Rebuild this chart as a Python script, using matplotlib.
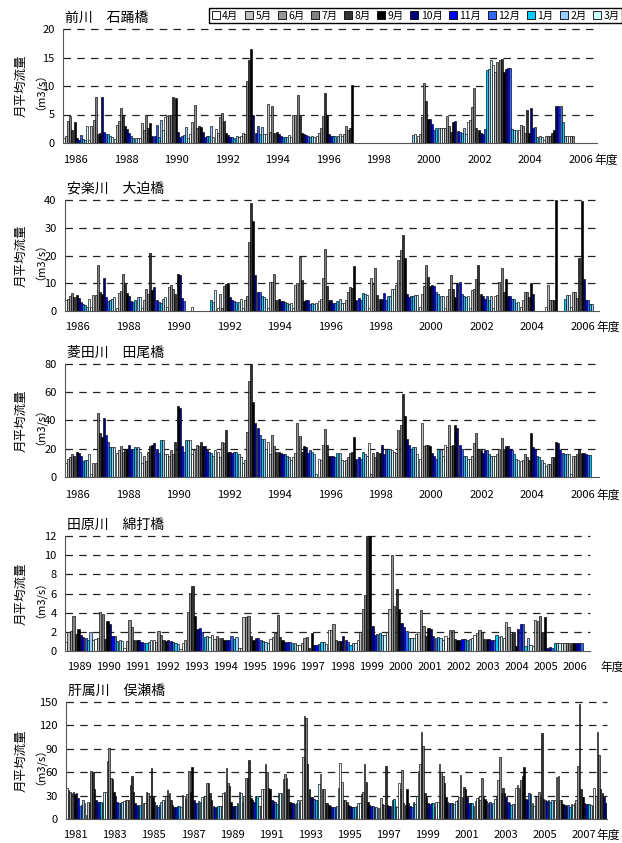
import numpy as np
import matplotlib.pyplot as plt
from matplotlib.patches import Patch
from matplotlib import transforms

plt.rcParams['font.family'] = ['Noto Sans CJK JP', 'DejaVu Sans']

_ = None

months = ['4月', '5月', '6月', '7月', '8月', '9月', '10月', '11月', '12月', '1月', '2月', '3月']
colors = ['#FFFFFF', '#C0C0C0', '#969696', '#808080', '#333333', '#000000',
          '#000080', '#0000FF', '#3366FF', '#00CCFF', '#99CCFF', '#CCFFFF']

# 前川 石踊橋  (rows = fiscal year, Apr..Mar)
maekawa_years = list(range(1986, 2007))
maekawa = [
    [0.8, 1.2, 3.9, 4.7, 2.2, 3.7, 0.8, 0.5, 1.4, 0.7, 0.6, 3.0],
    [0.6, 3.0, 4.0, 8.1, 1.5, 1.7, 8.1, 2.0, 1.6, 1.5, 1.3, 1.0],
    [0.7, 3.1, 3.8, 6.2, 5.0, 3.0, 2.4, 1.7, 1.2, 0.8, 0.8, 0.8],
    [0.8, 3.5, 2.2, 5.0, 2.6, 3.5, 1.2, 1.3, 3.1, 1.1, 4.1, 2.3],
    [4.5, 4.7, 4.9, 5.0, 8.0, 7.9, 2.0, 1.0, 1.3, 1.4, 2.8, 0.8],
    [1.5, 3.6, 6.6, 2.6, 2.9, 2.8, 1.9, 1.1, 1.2, 1.2, 3.0, 1.0],
    [2.4, 1.8, 4.6, 5.2, 3.8, 1.8, 1.4, 1.0, 1.1, 0.9, 1.3, 1.0],
    [1.2, 1.8, 1.5, 10.8, 14.5, 16.5, 5.0, 1.8, 3.0, 1.6, 2.8, 1.5],
    [1.5, 6.8, 2.0, 6.5, 1.8, 2.0, 1.5, 1.3, 1.1, 1.0, 1.0, 1.4],
    [1.0, 5.0, 5.0, 8.5, 4.8, 1.8, 1.5, 1.4, 1.2, 1.1, 1.3, 1.0],
    [1.2, 1.8, 2.6, 4.8, 8.8, 5.0, 1.5, 1.2, 1.2, 1.2, 1.3, 1.5],
    [1.3, 1.6, 3.0, 2.3, 2.6, 10.2, _, _, _, _, _, _],
    [_, _, _, _, _, _, _, _, _, _, _, _],
    [_, _, _, _, _, _, _, _, _, _, 1.4, 1.5],
    [1.2, 1.6, 4.6, 10.6, 7.3, 4.2, 4.2, 3.3, 2.2, 2.7, 2.7, 2.6],
    [2.7, 2.6, 4.7, 2.9, 1.9, 3.6, 3.8, 2.1, 2.0, 1.8, 2.6, 1.5],
    [3.7, 4.1, 6.3, 9.6, 2.6, 2.2, 1.8, 1.6, 2.4, 12.8, 12.9, 14.5],
    [13.6, 12.4, 14.2, 14.5, 14.8, 12.5, 13.0, 13.2, 13.2, 2.4, 2.3, 2.2],
    [2.2, 3.2, 2.9, 1.8, 5.8, 1.7, 6.2, 2.7, 2.8, 1.1, 1.2, 1.0],
    [0.5, 1.2, 1.2, 1.2, 1.8, 2.2, 6.5, 6.5, 6.5, 3.7, 1.2, 1.2],
    [1.2, 1.2, 1.2, _, _, _, _, _, _, _, _, _],
]

# 安楽川 大迫橋
anraku_years = list(range(1986, 2007))
anraku = [
    [4.0, 4.5, 5.5, 6.5, 5.0, 5.8, 4.8, 3.3, 2.7, 2.0, 1.5, 4.3],
    [1.5, 5.6, 5.6, 16.5, 7.0, 6.2, 12.0, 5.0, 3.5, 3.8, 4.5, 5.0],
    [1.0, 6.5, 7.3, 13.3, 9.8, 6.5, 5.5, 3.5, 3.2, 3.8, 5.0, 5.0],
    [1.0, 4.0, 8.0, 6.2, 21.0, 7.5, 8.5, 4.0, 3.2, 2.8, 4.5, 5.2],
    [1.5, 8.5, 9.5, 8.0, 6.0, 13.3, 12.8, 4.8, 3.5, _, _, _],
    [1.3, _, _, _, _, _, _, _, _, 3.8, 3.2, 7.5],
    [1.0, 6.2, 1.2, 9.0, 9.8, 10.0, 5.0, 4.0, 3.5, 3.3, 3.2, 4.2],
    [1.0, 4.0, 5.5, 25.0, 39.0, 32.3, 12.8, 7.0, 6.8, 5.5, 5.0, 4.3],
    [1.0, 10.5, 10.5, 13.3, 3.8, 4.3, 3.5, 3.5, 3.3, 3.0, 2.5, 2.8],
    [1.0, 9.5, 10.0, 19.3, 11.0, 3.5, 4.0, 4.0, 2.5, 3.0, 2.5, 3.0],
    [3.5, 4.5, 12.0, 22.5, 9.0, 4.0, 3.8, 2.8, 2.8, 3.5, 4.3, 3.0],
    [3.0, 4.0, 7.0, 8.8, 8.3, 16.2, 4.0, 4.7, 4.0, 6.5, 6.0, 5.8],
    [1.0, 11.8, 9.8, 15.5, 5.7, 4.2, 4.2, 6.5, 4.0, 5.5, 5.5, 8.0],
    [8.0, 9.2, 18.2, 22.0, 27.3, 19.0, 6.2, 5.0, 5.3, 5.5, 5.8, 5.8],
    [1.3, 6.0, 9.0, 16.5, 12.3, 9.0, 9.5, 9.0, 7.0, 6.0, 5.5, 5.3],
    [1.2, 5.3, 8.0, 12.8, 8.0, 5.2, 10.0, 10.3, 6.0, 5.3, 5.0, 5.5],
    [1.2, 7.5, 8.0, 11.5, 16.5, 6.0, 5.5, 4.5, 5.3, 3.8, 5.3, 1.2],
    [5.5, 5.8, 10.5, 15.5, 7.0, 11.7, 5.5, 5.5, 4.5, 4.3, 2.8, 3.3],
    [1.3, 4.0, 7.0, 7.0, 5.0, 10.2, 6.0, _, _, _, _, _],
    [1.5, 9.3, 4.0, 3.8, 4.0, 40.0, _, _, _, 4.5, 5.8, 5.8],
    [1.5, 7.0, 7.0, 4.8, 19.0, 39.8, 11.5, 4.0, 4.0, 2.5, 2.5, _],
]

# 菱田川 田尾橋
hishida_years = list(range(1986, 2007))
hishida = [
    [10, 13, 14.5, 16, 15, 18, 17, 15, 11, 12, 12, 16],
    [2, 10, 10, 45, 31, 28, 42, 29.5, 25, 21, 21, 21],
    [17, 19, 22, 18, 20, 20, 23, 20, 20, 21, 21, 18],
    [10, 15, 11, 18, 22, 23, 24, 20, 17, 26, 26.5, 16],
    [16, 15, 19, 16, 25, 50, 48.5, 22, 18, 26, 26, 26],
    [16, 19, 23, 22, 25, 22, 22, 19, 18, 17, 15, 19],
    [18, 14, 25, 24, 33, 18, 18, 17, 18, 18, 16, 14],
    [10, 12, 32, 68, 80, 53, 38, 35, 30, 27, 27, 20],
    [25, 16, 29.5, 22, 18, 18, 17, 16, 16, 15, 14, 12],
    [14, 17, 38, 29, 18, 22, 21, 17, 19, 18, 16, 2],
    [13, 12, 23, 34, 23, 15, 15, 15, 14, 17, 17, 12],
    [11, 12, 14, 17, 18, 28, 13, 14, 13, 18, 16, 15],
    [24, 2, 17, 14, 18, 17, 23, 16, 19, 20, 20, 19],
    [18, 17, 33, 37, 59, 43, 27, 23, 20, 21, 21, 16],
    [13, 38, 22, 23, 23, 22, 17, 15, 13, 20, 19, 15],
    [23, 21, 36.5, 22, 23, 37, 35, 23, 20, 15, 15, 13],
    [13, 15, 24, 31, 20, 19, 17, 19, 19, 16, 15, 15],
    [15, 16, 20, 27.5, 20, 22, 22, 19.5, 19, 16, 13, 12],
    [11, 12, 16, 14, 12, 31, 21, 20, 15, 14, 12, 10],
    [8, 9, 9, 14, 14, 25, 24, 19, 17, 16, 16, 16],
    [2, 15, 15, 16, 19.5, 17, 17, 16, 15.5, 15.5, _, _],
]

# 田原川 綿打橋
tahara_years = list(range(1989, 2007))
tahara = [
    [0.9, 2.0, 2.1, 3.7, 1.8, 2.3, 1.7, 1.5, 1.4, 1.2, 2.0, 1.2],
    [1.3, 1.4, 4.1, 3.9, 1.3, 3.1, 2.8, 1.6, 1.6, 1.0, 1.2, 1.0],
    [0.3, 1.0, 3.2, 2.5, 1.2, 1.2, 1.2, 0.9, 0.8, 0.8, 0.9, 1.2],
    [1.2, 0.9, 2.1, 1.7, 1.2, 1.0, 1.1, 1.0, 0.9, 0.8, 0.7, 0.2],
    [0.8, 1.1, 4.1, 6.1, 6.8, 3.7, 2.3, 2.4, 2.0, 1.5, 1.6, 1.5],
    [1.7, 1.3, 1.6, 1.4, 1.4, 1.2, 1.2, 1.2, 1.6, 1.3, 1.5, 0.3],
    [0.3, 3.5, 3.6, 3.7, 1.6, 1.1, 1.4, 1.4, 1.1, 1.0, 0.9, 0.8],
    [1.3, 1.5, 1.9, 3.8, 1.5, 1.1, 0.9, 0.9, 0.9, 0.8, 0.8, 0.6],
    [0.6, 0.8, 1.4, 1.5, 0.3, 1.9, 0.6, 0.6, 0.7, 0.9, 0.9, 0.7],
    [2.2, 2.2, 2.8, 1.1, 1.0, 1.0, 1.6, 1.1, 0.9, 0.6, 0.8, 0.8],
    [1.2, 2.0, 4.4, 5.8, 12.0, 12.0, 2.6, 1.7, 1.8, 1.9, 1.7, 1.7],
    [2.0, 4.4, 10.0, 4.7, 6.5, 4.4, 2.9, 2.5, 2.1, 1.4, 1.4, 1.4],
    [1.8, 2.0, 4.3, 2.6, 1.6, 2.4, 2.3, 1.6, 1.4, 1.5, 1.4, 1.2],
    [1.6, 1.4, 2.2, 2.2, 1.3, 1.2, 1.2, 1.3, 1.3, 1.1, 1.3, 1.4],
    [1.7, 1.9, 2.2, 2.0, 1.3, 1.3, 1.3, 1.2, 1.2, 1.7, 1.5, 1.6],
    [1.4, 3.0, 2.5, 1.8, 2.0, 0.5, 2.3, 2.8, 2.8, 0.5, 1.4, 0.6],
    [0.5, 3.2, 3.1, 3.7, 2.0, 3.5, 0.3, 0.4, 0.3, 0.8, 0.8, 0.8],
    [0.8, 0.8, 0.8, 0.8, 0.8, 0.8, 0.8, 0.8, 0.8, _, _, _],
]

# 肝属川 俣瀬橋
kimotsuki_years = list(range(1981, 2009))
kimotsuki = [
    [40, 37, 34, 33, 35, 32, 33, 27, 17, 18, 24, 20],
    [5, 22, 20, 62, 60, 38, 25, 22, 22, 22, 21, 34],
    [35, 74, 91, 52, 51, 35, 30, 22, 21, 20, 22, 23],
    [24, 25, 24, 44, 55, 35, 21, 18, 17, 18, 29, 20],
    [20, 34, 33, 28, 65, 28, 22, 18, 16, 18, 22, 25],
    [24, 30, 37, 33, 25, 18, 16, 16, 17, 17, 16, 31],
    [30, 26, 32, 62, 35, 67, 25, 20, 20, 23, 22, 28],
    [28, 30, 46, 46, 33, 24, 17, 16, 16, 17, 17, 17],
    [33, 35, 65, 46, 42, 22, 17, 17, 17, 20, 34, 33],
    [22, 30, 52, 52, 76, 27, 24, 22, 30, 30, 17, 17],
    [38, 38, 70, 60, 40, 38, 25, 23, 22, 19, 33, 33],
    [33, 51, 58, 52, 38, 22, 20, 20, 19, 20, 24, 21],
    [25, 80, 132, 130, 70, 38, 28, 28, 26, 25, 24, 45],
    [58, 38, 38, 21, 20, 18, 17, 16, 16, 16, 17, 40],
    [72, 47, 24, 24, 22, 18, 17, 16, 16, 16, 17, 21],
    [20, 32, 34, 70, 48, 22, 18, 17, 17, 16, 15, 14],
    [14, 27, 19, 18, 68, 18, 17, 17, 25, 26, 17, 16],
    [46, 38, 63, 20, 18, 38, 20, 17, 16, 22, 19, 29],
    [62, 70, 112, 93, 33, 28, 20, 19, 20, 20, 16, 22],
    [22, 70, 60, 55, 46, 28, 22, 20, 20, 20, 19, 23],
    [25, 28, 56, 28, 41, 38, 28, 21, 21, 21, 17, 23],
    [27, 28, 25, 53, 28, 26, 23, 21, 22, 19, 20, 26],
    [28, 50, 80, 33, 40, 33, 28, 22, 20, 18, 19, 19],
    [40, 43, 40, 50, 55, 67, 26, 25, 33, 32, 20, 17],
    [28, 30, 34, 28, 110, 26, 25, 23, 25, 22, 24, 25],
    [25, 54, 55, 25, 25, 19, 18, 17, 18, 16, 19, 18],
    [20, 25, 68, 148, 38, 28, 20, 19, 19, 19, 18, 17],
    [40, 30, 112, 82, 38, 33, 28, 20, 20, _, _, _],
]

W, H = 622, 843
fig = plt.figure(figsize=(W / 100, H / 100), dpi=100)


def px_axes(l, t, r, b):
    return fig.add_axes([l / W, 1 - b / H, (r - l) / W, (b - t) / H])


def panel(box, title, years, rows, yticks, xlim, label_years, label_y, nendo_x):
    l, t, r, b = box
    ax = px_axes(l, t, r, b)
    for m in range(12):
        xs, hs = [], []
        for y, row in zip(years, rows):
            if row[m] is not None:
                xs.append(y + (m + 0.5) / 12)
                hs.append(row[m])
        ax.bar(xs, hs, width=0.95 / 12, color=colors[m], edgecolor='black',
               linewidth=0.45, zorder=2)
    ax.set_xlim(*xlim)
    ax.set_ylim(0, yticks[-1])
    for v in yticks[1:]:
        ax.axhline(v, color='#222222', lw=0.9, ls=(0, (6, 5)), zorder=0, clip_on=False)
    ax.set_yticks(yticks)
    ax.tick_params(axis='y', length=0, pad=6, labelsize=8)
    ax.set_xticks([])
    for s in ['top', 'right']:
        ax.spines[s].set_visible(False)
    ax.spines['left'].set_color('#555555')
    ax.spines['bottom'].set_color('#555555')
    trans = transforms.blended_transform_factory(ax.transData, fig.transFigure)
    for y in label_years:
        ax.text(y + 0.5, 1 - label_y / H, str(y), transform=trans,
                ha='center', va='center', fontsize=8)
    fig.text(nendo_x / W, 1 - label_y / H, '年度', ha='left', va='center', fontsize=8.5)
    fig.text((l + 2) / W, 1 - (t - 11) / H, title, ha='left', va='center', fontsize=10)
    cy = 1 - (t + b) / 2 / H
    fig.text(21 / W, cy, '月平均流量', rotation=90, ha='center', va='center', fontsize=9)
    fig.text(35 / W, cy, '（m3/s）', rotation=90, ha='center', va='center', fontsize=8)
    return ax


panel((63, 29, 597, 143), '前川　石踊橋', maekawa_years, maekawa,
      [0, 5, 10, 15, 20], (1986, 2007.15), range(1986, 2007, 2), 160, 594)
panel((65, 200, 599, 311), '安楽川　大迫橋', anraku_years, anraku,
      [0, 10, 20, 30, 40], (1986, 2007.15), range(1986, 2007, 2), 327, 596)
panel((65, 364, 599, 477), '菱田川　田尾橋', hishida_years, hishida,
      [0, 20, 40, 60, 80], (1986, 2007.15), range(1986, 2007, 2), 495, 596)
panel((65, 536, 590, 651), '田原川　綿打橋', tahara_years, tahara,
      [0, 2, 4, 6, 8, 10, 12], (1989, 2007), range(1989, 2007), 667, 600)
panel((66, 702, 607, 819), '肝属川　俣瀬橋', kimotsuki_years, kimotsuki,
      [0, 30, 60, 90, 120, 150], (1981, 2008.7), range(1981, 2008, 2), 835, 596)

handles = [Patch(facecolor=c, edgecolor='black', linewidth=0.6) for c in colors]
fig.legend(handles, months, ncol=12, loc='upper right', bbox_to_anchor=(1.0, 1 - 8 / H),
           fontsize=7.5, handlelength=0.75, handleheight=0.75, handletextpad=0.25,
           columnspacing=0.62, borderpad=0.25, borderaxespad=0, frameon=True,
           fancybox=False, edgecolor='black', framealpha=1)

fig.savefig('out.png', dpi=100)
